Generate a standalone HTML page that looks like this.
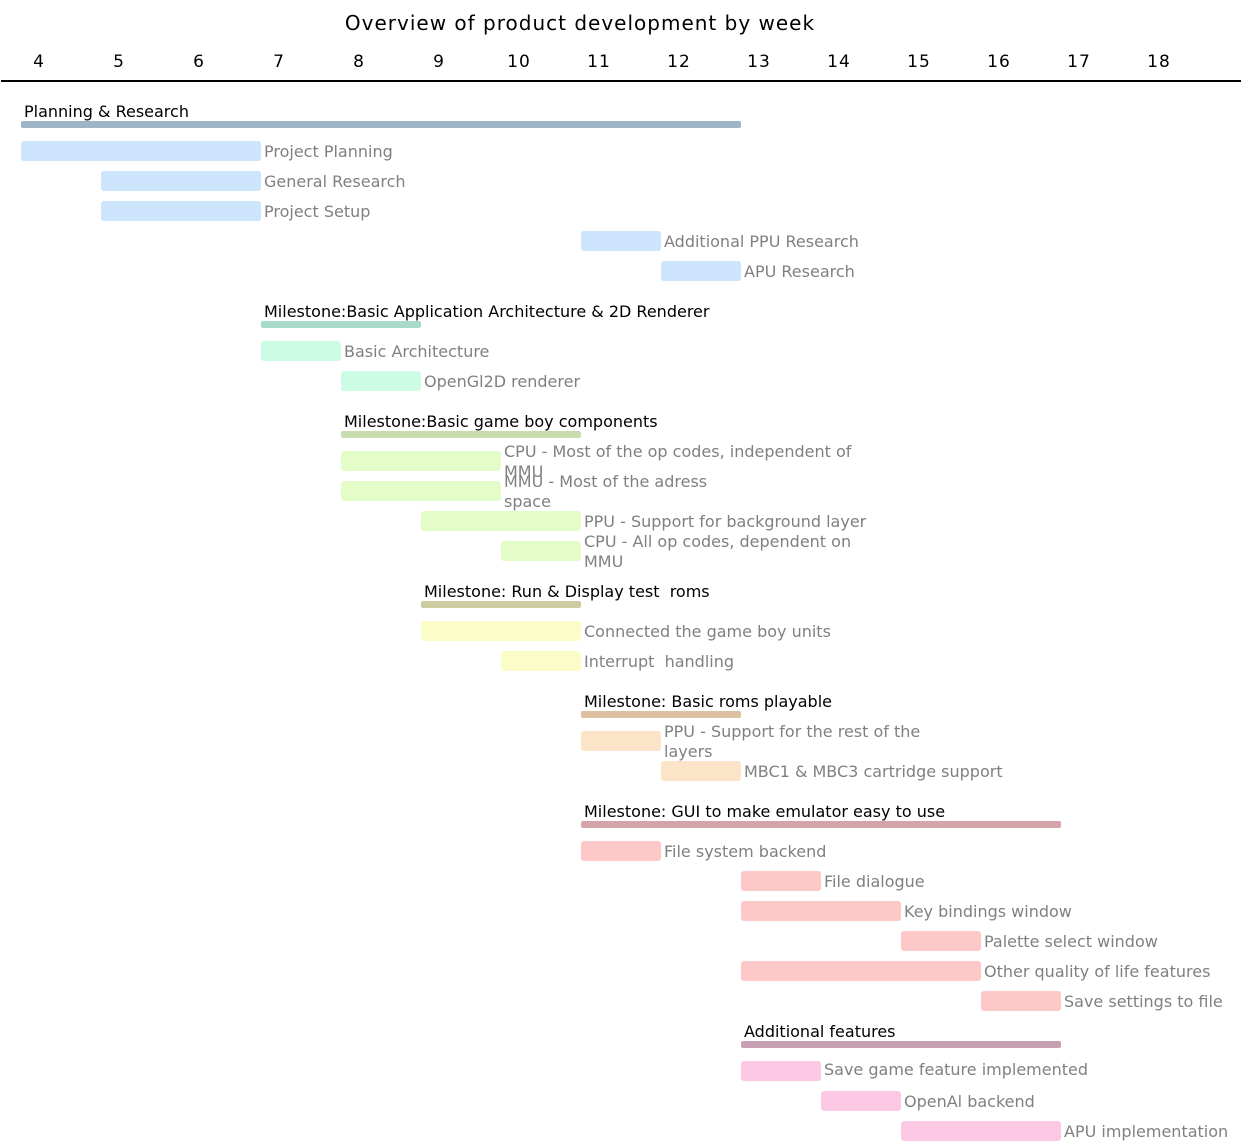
<!DOCTYPE html>
<html><head><meta charset="utf-8"><style>
body{margin:0;width:1244px;height:1142px;background:#fff;position:relative;overflow:hidden;font-family:"DejaVu Sans","Liberation Sans",sans-serif;font-size:16px}
.b{position:absolute;height:20px;border-radius:3px}
.s{position:absolute;height:7px;border-radius:2px}
.t{position:absolute;line-height:20px;color:#808080;white-space:nowrap}
.h{position:absolute;line-height:20px;color:#000;white-space:nowrap}
.w{position:absolute;top:52px;width:40px;text-align:center;font-size:17px;letter-spacing:1px}
</style></head><body>
<div style="position:absolute;top:11px;left:0;width:1160px;text-align:center;font-size:20px;letter-spacing:1px">Overview of product development by week</div>
<div class="w" style="left:19px">4</div><div class="w" style="left:99px">5</div><div class="w" style="left:179px">6</div><div class="w" style="left:259px">7</div><div class="w" style="left:339px">8</div><div class="w" style="left:419px">9</div><div class="w" style="left:499px">10</div><div class="w" style="left:579px">11</div><div class="w" style="left:659px">12</div><div class="w" style="left:739px">13</div><div class="w" style="left:819px">14</div><div class="w" style="left:899px">15</div><div class="w" style="left:979px">16</div><div class="w" style="left:1059px">17</div><div class="w" style="left:1139px">18</div>
<div style="position:absolute;left:1px;top:80px;width:1240px;height:2px;background:#000"></div>

<div class="h" style="left:24px;top:102px">Planning &amp; Research</div>
<div class="s" style="left:21px;width:720px;top:121px;background:#a0b4c8"></div>
<div class="b" style="left:21px;width:240px;top:141px;background:#cce4fc"></div><div class="t" style="left:264px;top:142px">Project Planning</div>
<div class="b" style="left:101px;width:160px;top:171px;background:#cce4fc"></div><div class="t" style="left:264px;top:172px">General Research</div>
<div class="b" style="left:101px;width:160px;top:201px;background:#cce4fc"></div><div class="t" style="left:264px;top:202px">Project Setup</div>
<div class="b" style="left:581px;width:80px;top:231px;background:#cce4fc"></div><div class="t" style="left:664px;top:232px">Additional PPU Research</div>
<div class="b" style="left:661px;width:80px;top:261px;background:#cce4fc"></div><div class="t" style="left:744px;top:262px">APU Research</div>

<div class="h" style="left:264px;top:302px">Milestone:Basic Application Architecture &amp; 2D Renderer</div>
<div class="s" style="left:261px;width:160px;top:321px;background:#a8dcc8"></div>
<div class="b" style="left:261px;width:80px;top:341px;background:#ccfce4"></div><div class="t" style="left:344px;top:342px">Basic Architecture</div>
<div class="b" style="left:341px;width:80px;top:371px;background:#ccfce4"></div><div class="t" style="left:424px;top:372px">OpenGl2D renderer</div>

<div class="h" style="left:344px;top:412px">Milestone:Basic game boy components</div>
<div class="s" style="left:341px;width:240px;top:431px;background:#c8dcb0"></div>
<div class="b" style="left:341px;width:160px;top:451px;background:#e4fcc8"></div><div class="t" style="left:504px;top:442px">CPU - Most of the op codes, independent of<br>MMU</div>
<div class="b" style="left:341px;width:160px;top:481px;background:#e4fcc8"></div><div class="t" style="left:504px;top:472px">MMU - Most of the adress<br>space</div>
<div class="b" style="left:421px;width:160px;top:511px;background:#e4fcc8"></div><div class="t" style="left:584px;top:512px">PPU - Support for background layer</div>
<div class="b" style="left:501px;width:80px;top:541px;background:#e4fcc8"></div><div class="t" style="left:584px;top:532px">CPU - All op codes, dependent on<br>MMU</div>

<div class="h" style="left:424px;top:582px">Milestone: Run &amp; Display test&nbsp; roms</div>
<div class="s" style="left:421px;width:160px;top:601px;background:#cccca0"></div>
<div class="b" style="left:421px;width:160px;top:621px;background:#fcfcc8"></div><div class="t" style="left:584px;top:622px">Connected the game boy units</div>
<div class="b" style="left:501px;width:80px;top:651px;background:#fcfcc8"></div><div class="t" style="left:584px;top:652px">Interrupt&nbsp; handling</div>

<div class="h" style="left:584px;top:692px">Milestone: Basic roms playable</div>
<div class="s" style="left:581px;width:160px;top:711px;background:#dcc0a0"></div>
<div class="b" style="left:581px;width:80px;top:731px;background:#fce4c8"></div><div class="t" style="left:664px;top:722px">PPU - Support for the rest of the<br>layers</div>
<div class="b" style="left:661px;width:80px;top:761px;background:#fce4c8"></div><div class="t" style="left:744px;top:762px">MBC1 &amp; MBC3 cartridge support</div>

<div class="h" style="left:584px;top:802px">Milestone: GUI to make emulator easy to use</div>
<div class="s" style="left:581px;width:480px;top:821px;background:#d4a4a8"></div>
<div class="b" style="left:581px;width:80px;top:841px;background:#fcc8c8"></div><div class="t" style="left:664px;top:842px">File system backend</div>
<div class="b" style="left:741px;width:80px;top:871px;background:#fcc8c8"></div><div class="t" style="left:824px;top:872px">File dialogue</div>
<div class="b" style="left:741px;width:160px;top:901px;background:#fcc8c8"></div><div class="t" style="left:904px;top:902px">Key bindings window</div>
<div class="b" style="left:901px;width:80px;top:931px;background:#fcc8c8"></div><div class="t" style="left:984px;top:932px">Palette select window</div>
<div class="b" style="left:741px;width:240px;top:961px;background:#fcc8c8"></div><div class="t" style="left:984px;top:962px">Other quality of life features</div>
<div class="b" style="left:981px;width:80px;top:991px;background:#fcc8c8"></div><div class="t" style="left:1064px;top:992px">Save settings to file</div>

<div class="h" style="left:744px;top:1022px">Additional features</div>
<div class="s" style="left:741px;width:320px;top:1041px;background:#c8a0b4"></div>
<div class="b" style="left:741px;width:80px;top:1061px;background:#fcc8e4"></div><div class="t" style="left:824px;top:1060px">Save game feature implemented</div>
<div class="b" style="left:821px;width:80px;top:1091px;background:#fcc8e4"></div><div class="t" style="left:904px;top:1092px">OpenAl backend</div>
<div class="b" style="left:901px;width:160px;top:1121px;background:#fcc8e4"></div><div class="t" style="left:1064px;top:1122px">APU implementation</div>
</body></html>
